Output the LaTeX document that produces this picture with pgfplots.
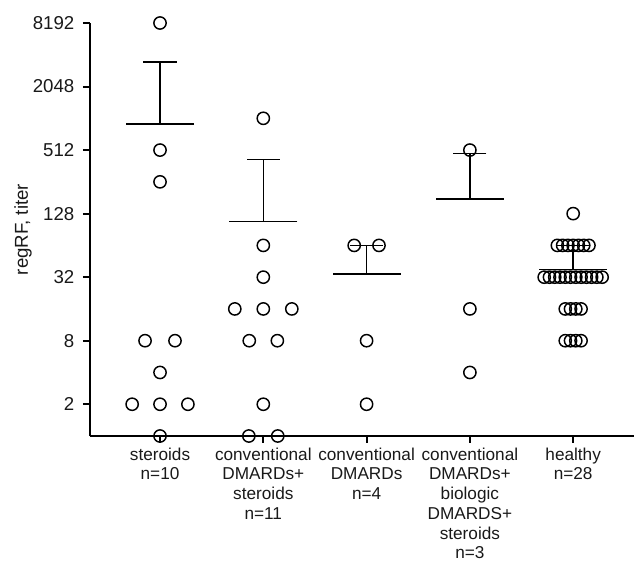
\documentclass[border=0pt]{standalone}
\usepackage{fontspec}
\setmainfont{Liberation Sans}
\usepackage{pgfplots}
\pgfplotsset{compat=1.18}
\newcommand{\catfont}{\fontsize{12.9pt}{14.8pt}\selectfont}
\newcommand{\numfont}{\fontsize{14pt}{16pt}\selectfont}
\begin{document}
\begin{tikzpicture}
\begin{axis}[
  at={(0,0)}, anchor=south west,
  scale only axis, width=408pt, height=309.75pt,
  xmin=-0.678, xmax=4.589,
  ymode=log, log basis y=2, ymin=1, ymax=8192,
  axis lines*=left,
  axis line style={line width=1.5pt, black},
  clip=false,
  tick align=outside,
  major tick length=5.25pt,
  tick style={line width=1.5pt, black},
  xtick={0,1,2,3,4},
  xticklabels={{steroids\\n=10},{conventional\\DMARDs+\\steroids\\n=11},{conventional\\DMARDs\\n=4},{conventional\\DMARDs+\\biologic\\DMARDS+\\steroids\\n=3},{healthy\\n=28}},
  xticklabel style={align=center, font=\catfont, anchor=north, text=black!90},
  ytick={2,8,32,128,512,2048,8192},
  yticklabels={2,8,32,128,512,2048,8192},
  yticklabel style={font=\numfont, anchor=east, xshift=-3pt, text=black!90},
  every axis y label/.style={at={(axis description cs:-0.1232,0.5)}, rotate=90, anchor=center, font=\numfont, text=black!90},
  ylabel={regRF, titer},
]
% individual values
\addplot[only marks, mark=o, mark size=4.6pt, mark options={line width=1.1pt, black}] coordinates {
  (0,8192) (0,512) (0,256) (-0.145,8) (0.145,8) (0,4) (-0.27,2) (0,2) (0.27,2) (0,1)
  (1,1024) (1,64) (1,32) (0.724,16) (1,16) (1.276,16) (0.864,8) (1.136,8) (1,2) (0.86,1) (1.14,1)
  (1.88,64) (2.12,64) (2,8) (2,2)
  (3,512) (3,16) (3,4)
  (4,128)
  (3.847,64) (3.898,64) (3.949,64) (4,64) (4.051,64) (4.102,64) (4.153,64)
  (3.7195,32) (3.7705,32) (3.8215,32) (3.8725,32) (3.9235,32) (3.9745,32)
  (4.0255,32) (4.0765,32) (4.1275,32) (4.1785,32) (4.2295,32) (4.2805,32)
  (3.9235,16) (3.9745,16) (4.0255,16) (4.0765,16)
  (3.9235,8) (3.9745,8) (4.0255,8) (4.0765,8)
};
% means
\addplot[only marks, mark=-, mark size=25.5pt, mark options={line width=1.2pt, black}] coordinates {
  (0,899) (1,108) (2,34.5) (3,177) (4,37.7)
};
% SD caps
\addplot[only marks, mark=-, mark size=12.4pt, mark options={line width=1.2pt, black}] coordinates {
  (0,3520) (1,416) (2,64) (3,475) (4,64)
};
% stems
\addplot[black, line width=1.2pt] coordinates {(0,899) (0,3520)};
\addplot[black, line width=1.2pt] coordinates {(1,108) (1,416)};
\addplot[black, line width=1.2pt] coordinates {(2,34.5) (2,64)};
\addplot[black, line width=1.2pt] coordinates {(3,177) (3,475)};
\addplot[black, line width=1.2pt] coordinates {(4,37.7) (4,64)};
\end{axis}
\pgfresetboundingbox
\path[use as bounding box] (-67.5pt,-93.75pt) rectangle (408pt,327pt);
\end{tikzpicture}
\end{document}
